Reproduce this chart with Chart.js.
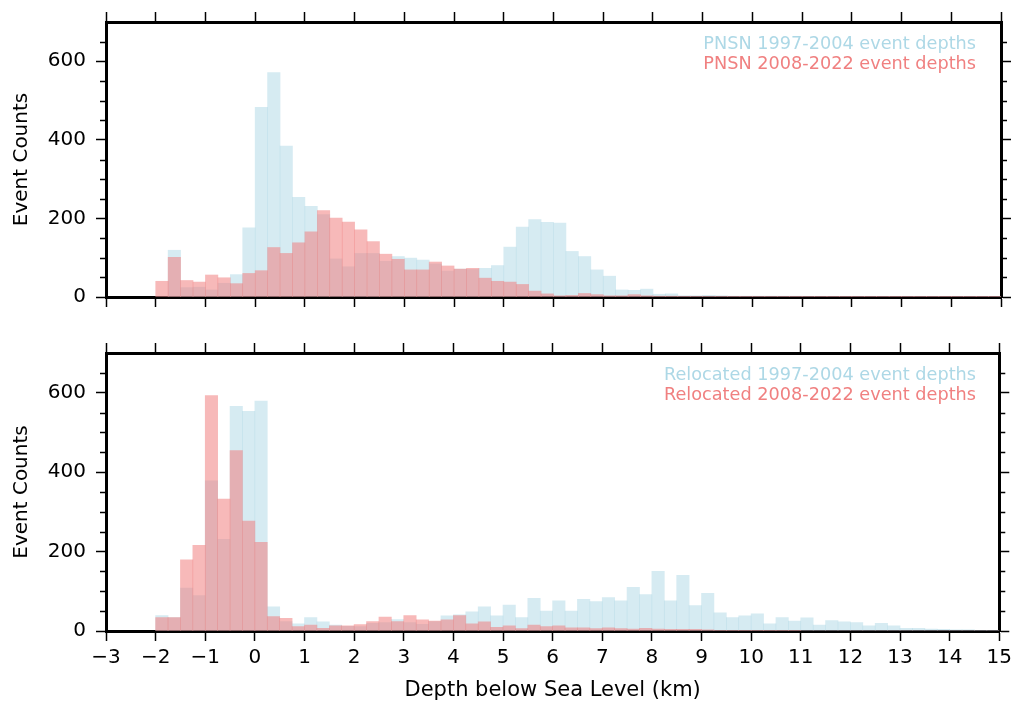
<!DOCTYPE html>
<html><head><meta charset="utf-8">
<script src="https://cdn.jsdelivr.net/npm/chart.js@4/dist/chart.umd.min.js"></script>
<style>
html,body{margin:0;padding:0;background:#fff;}
#wrap{position:relative;width:1017px;height:707px;overflow:hidden;background:#fff}
canvas{position:absolute;left:0}
#c1{top:0}
#c2{top:330px}
</style></head><body>
<div id="wrap"><canvas id="c1" width="1017" height="330"></canvas><canvas id="c2" width="1017" height="377"></canvas></div>
<script>
// Depth bin centres (km), 0.25 km bins from -2 to 15
const binCenters = [-1.875,-1.625,-1.375,-1.125,-0.875,-0.625,-0.375,-0.125,0.125,0.375,
  0.625,0.875,1.125,1.375,1.625,1.875,2.125,2.375,2.625,2.875,
  3.125,3.375,3.625,3.875,4.125,4.375,4.625,4.875,5.125,5.375,
  5.625,5.875,6.125,6.375,6.625,6.875,7.125,7.375,7.625,7.875,
  8.125,8.375,8.625,8.875,9.125,9.375,9.625,9.875,10.125,10.375,
  10.625,10.875,11.125,11.375,11.625,11.875,12.125,12.375,12.625,12.875,
  13.125,13.375,13.625,13.875,14.125,14.375,14.625,14.875];

const pnsnOld = [0,119,24,25,18,35,57,176,483,571,
  384,254,231,210,97,77,111,111,91,103,
  99,94,84,66,71,70,73,80,127,178,
  197,190,188,116,103,69,53,18,17,20,
  7,8,3,3,4,3,2,2,2,2,
  2,2,1,1,1,1,1,1,1,1,
  1,1,1,1,1,1,1,1];
const pnsnNew = [40,101,42,38,56,49,34,60,67,126,
  111,138,166,220,201,191,171,141,109,96,
  69,69,89,79,71,73,48,40,38,32,
  15,8,3,4,9,6,3,3,6,3,
  2,2,1,1,1,1,1,1,1,1,
  1,1,1,1,1,1,1,1,1,1,
  1,1,1,1,1,1,1,1];
const relocOld = [39,34,108,89,378,231,566,553,579,61,
  24,18,34,23,15,12,11,19,21,29,
  21,17,24,38,41,48,61,38,65,34,
  82,50,76,50,80,74,84,76,110,92,
  150,76,140,64,95,46,34,38,43,18,
  34,25,33,15,26,23,21,13,19,13,
  7,7,5,4,3,3,2,2];
const relocNew = [34,34,179,216,593,332,454,277,223,36,
  32,11,15,7,13,13,16,24,35,24,
  39,28,25,28,39,18,23,9,13,6,
  15,11,13,8,8,6,8,6,5,7,
  5,4,4,4,3,2,1,1,1,1,
  1,1,0,0,0,0,0,0,0,0,
  0,0,0,0,0,0,0,0];

const xTickLabels = ['\u22123','\u22122','\u22121','0','1','2','3','4','5','6','7','8','9','10','11','12','13','14','15'];
const yMajorTicks = [0,200,400,600];
const legendTop = ['PNSN 1997-2004 event depths','PNSN 2008-2022 event depths'];
const legendBottom = ['Relocated 1997-2004 event depths','Relocated 2008-2022 event depths'];

const FONT = 'DejaVu Sans';
Chart.defaults.font.family = FONT;
Chart.defaults.color = '#000';

const BLUE_FILL = 'rgba(173,216,230,0.5)';
const RED_FILL = 'rgba(240,128,128,0.55)';
const BLUE_TEXT = '#add8e6';
const RED_TEXT = '#f08080';

function fmtX(v){
  const i = Math.round(v) + 3;
  return xTickLabels[i] !== undefined ? xTickLabels[i] : '';
}

const minorTicks = {
  id: 'minorTicks',
  afterDraw(chart){
    const ys = chart.scales.y, ca = chart.chartArea, ctx = chart.ctx;
    ctx.save();
    ctx.strokeStyle = '#000';
    ctx.lineWidth = 1.5;
    ys.ticks.forEach(t => {
      if (yMajorTicks.includes(t.value) || t.value >= 700) return;
      const y = Math.round(ys.getPixelForValue(t.value)) + 0.5;
      ctx.beginPath();
      ctx.moveTo(ca.left - 6, y); ctx.lineTo(ca.left, y);
      ctx.moveTo(ca.right, y); ctx.lineTo(ca.right + 6, y);
      ctx.stroke();
    });
    ctx.restore();
  }
};

const textLegend = {
  id: 'textLegend',
  afterDraw(chart, args, opts){
    const ca = chart.chartArea, ctx = chart.ctx;
    ctx.save();
    ctx.font = '17.7px "' + FONT + '"';
    ctx.textAlign = 'right';
    ctx.textBaseline = 'alphabetic';
    ctx.fillStyle = BLUE_TEXT;
    ctx.fillText(opts.lines[0], 976, ca.top + 26.5);
    ctx.fillStyle = RED_TEXT;
    ctx.fillText(opts.lines[1], 976, ca.top + 46.5);
    ctx.restore();
  }
};

function makePanel(canvas, oldVals, newVals, lines, dims, showX){
  const gridCommon = {display:true, drawOnChartArea:false, drawTicks:true, tickLength:10, tickWidth:1.5, tickColor:'#000', offset:false};
  const borderCommon = {display:true, width:3, color:'#000'};
  return new Chart(canvas, {
    type: 'bar',
    data: {
      datasets: [
        {label: lines[1], data: binCenters.map((x,i)=>({x, y:newVals[i]})), backgroundColor: RED_FILL,
         borderWidth:0, grouped:false, barPercentage:1, categoryPercentage:1, order:0},
        {label: lines[0], data: binCenters.map((x,i)=>({x, y:oldVals[i]})), backgroundColor: BLUE_FILL,
         borderWidth:0, grouped:false, barPercentage:1, categoryPercentage:1, order:1}
      ]
    },
    options: {
      responsive:false, animation:false, devicePixelRatio:1,
      layout:{padding:0},
      plugins:{legend:{display:false}, tooltip:{enabled:false}, textLegend:{lines}},
      scales:{
        x:{type:'linear', axis:'x', position:'bottom', min:-3, max:15, offset:false,
           ticks:{display:showX, stepSize:1, autoSkip:false, maxRotation:0, padding:5,
                  font:{size:20, family:FONT}, color:'#000', callback:fmtX},
           grid:gridCommon, border:borderCommon,
           title:{display:showX, text:'Depth below Sea Level (km)', font:{size:21, family:FONT}, color:'#000', padding:{top:0,bottom:4}},
           afterFit:s=>{s.height = dims.bottomH;}},
        x2:{type:'linear', axis:'x', position:'top', min:-3, max:15, offset:false,
           ticks:{display:false, stepSize:1, autoSkip:false},
           grid:gridCommon, border:borderCommon,
           afterFit:s=>{s.height = dims.topH;}},
        y:{type:'linear', axis:'y', position:'left', min:0, max:700,
           ticks:{stepSize:50, autoSkip:false, padding:10, font:{size:20, family:FONT}, color:'#000',
                  callback:v=> yMajorTicks.includes(v) ? String(v) : ''},
           grid:Object.assign({}, gridCommon, {tickColor:c => yMajorTicks.includes(c.tick.value) ? '#000' : 'rgba(0,0,0,0)'}),
           border:borderCommon,
           title:{display:true, text:'Event Counts', font:{size:20, family:FONT}, color:'#000', padding:{top:10,bottom:0}},
           afterFit:s=>{s.width = 106;}},
        y2:{type:'linear', axis:'y', position:'right', min:0, max:700,
           ticks:{display:false, stepSize:50, autoSkip:false},
           grid:Object.assign({}, gridCommon, {tickColor:c => yMajorTicks.includes(c.tick.value) ? '#000' : 'rgba(0,0,0,0)'}),
           border:borderCommon,
           afterFit:s=>{s.width = 16;}}
      }
    },
    plugins:[minorTicks, textLegend]
  });
}

makePanel(document.getElementById('c1'), pnsnOld, pnsnNew, legendTop, {topH:20, bottomH:33}, false);
makePanel(document.getElementById('c2'), relocOld, relocNew, legendBottom, {topH:23, bottomH:76}, true);
</script>
</body></html>
